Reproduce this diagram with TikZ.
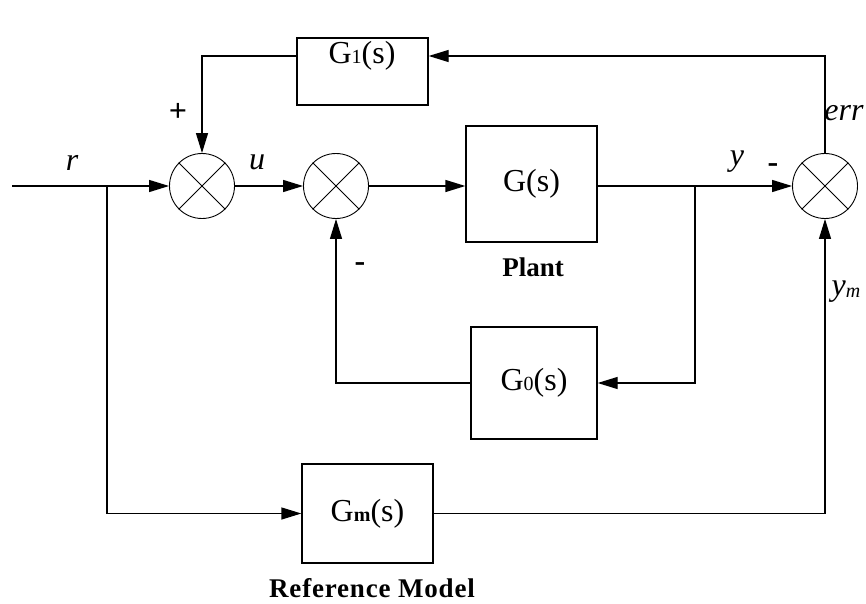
\documentclass[tikz,border=0pt]{standalone}
\usepackage{fontspec}
\setmainfont{Liberation Serif}
\usetikzlibrary{arrows.meta,shapes.geometric}
\newcommand{\smallsub}[1]{{\fontsize{20}{20}\selectfont #1}}
\begin{document}
\begin{tikzpicture}[x=1pt,y=-1pt,
 blk/.style={draw, line width=1.3pt, inner sep=0pt, font=\fontsize{32}{34}\selectfont},
 sumj/.style={draw, circle, line width=0.9pt, minimum size=65pt, inner sep=0pt},
 conn/.style={line width=1.3pt},
 arr/.style={conn, -{Triangle[length=20pt,width=12pt]}},
 lbl/.style={font=\fontsize{32}{34}\selectfont\itshape, inner sep=0pt},
 txt/.style={font=\fontsize{32}{34}\selectfont, inner sep=0pt},
 sgn/.style={font=\fontsize{32}{34}\selectfont\bfseries, inner sep=0pt},
 capt/.style={font=\fontsize{27}{29}\selectfont\bfseries, inner sep=0pt}]

\useasboundingbox (0,0) rectangle (866,604);

% blocks
\node[blk, minimum width=131pt, minimum height=67pt] (g1) at (362.5,71.5) {};
\node[txt] (g1t) at (362,56) {G\smallsub{1}(s)};
\node[blk, minimum width=131pt, minimum height=116pt] (g) at (531.5,184) {G(s)};
\node[blk, minimum width=126pt, minimum height=112pt] (g0) at (534,383) {G\smallsub{0}(s)};
\node[blk, minimum width=131pt, minimum height=99pt] (gm) at (367.5,513.5) {G{\fontsize{20}{20}\selectfont\bfseries m}(s)};

% summing junctions
\node[sumj] (s1) at (202,186) {};
\node[sumj] (s2) at (336,186) {};
\node[sumj] (s3) at (825,186) {};
\foreach \s in {s1,s2,s3}{
  \draw[line width=0.9pt] (\s.north east) -- (\s.south west) (\s.north west) -- (\s.south east);
}

% captions
\node[capt] (plant) at (533,267) {Plant};
\node[capt] (refm) at (372,588) {\addfontfeature{LetterSpace=3}Reference Model};

% coordinates
\coordinate (in) at (12,186);
\coordinate (br1) at (107,186);
\coordinate (br2) at (695,186);

% connectors
\draw[arr] (in) -- (s1.west);
\draw[arr] (br1) |- (gm.west);
\draw[arr] (s1.east) -- (s2.west);
\draw[arr] (s2.east) -- (g.west |- s2);
\draw[arr] (g.east |- s3) -- (s3.west);
\draw[arr] (br2) |- (g0.east);
\draw[arr] (g0.west) -| (s2.south);
\draw[arr] (gm.east) -| (s3.south);
\draw[arr] (s3.north) |- (g1.east |- g1t);
\draw[arr] (g1.west |- g1t) -| (s1.north);

% labels
\node[lbl] (lr) at (72,163) {r};
\node[lbl] (lu) at (257,162) {u};
\node[lbl] (ly) at (737,162) {y};
\node[lbl] (lerr) at (844,113) {err};
\node[lbl] (lym) at (846,292) {y\raisebox{-2pt}{\fontsize{20}{20}\selectfont m}};
\node[sgn] (plus) at (178,112) {+};
\node[sgn] (m1) at (360,267) {-};
\node[sgn] (m2) at (773,168) {-};
\end{tikzpicture}
\end{document}
